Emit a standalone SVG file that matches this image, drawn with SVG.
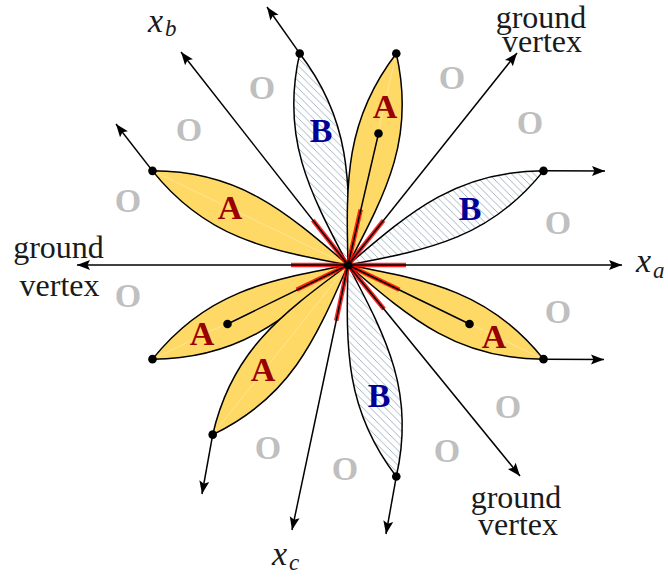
<svg xmlns="http://www.w3.org/2000/svg" width="668" height="579" viewBox="0 0 668 579">
<defs>
  <pattern id="hatch" patternUnits="userSpaceOnUse" width="7.5" height="7.5">
    <path d="M-1,-1 L8.5,8.5 M-1,6.5 L1,8.5 M6.5,-1 L8.5,1" stroke="#98acb9" stroke-width="0.9" fill="none"/>
  </pattern>
  <marker id="arr" viewBox="-14 -6 15 12" refX="0" refY="0" markerWidth="15" markerHeight="12" markerUnits="userSpaceOnUse" orient="auto">
    <path d="M0,0 L-13,-5 L-10.5,0 L-13,5 Z" fill="#000"/>
  </marker>
</defs>
<style>
  .petA{fill:#ffd966;stroke:#000;stroke-width:1.5;stroke-linejoin:round}
  .petB{fill:url(#hatch);stroke:#000;stroke-width:1.5;stroke-linejoin:round}
  .seam{stroke:#fff;stroke-width:0.6;stroke-opacity:0.5}
  .ax{stroke:#000;stroke-width:1.5;fill:none;marker-end:url(#arr)}
  .ln{stroke:#000;stroke-width:1.5}
  .red{stroke:#ff0000;stroke-width:4.5;stroke-opacity:0.85}
  .dot{fill:#000}
  .la,.lb,.lo{font-family:"Liberation Serif","DejaVu Serif",serif;font-weight:bold;font-size:34px;text-anchor:middle}
  .la{fill:#990000}
  .lb{fill:#000099}
  .lo{fill:#bfbfbf}
  .t{font-family:"Liberation Serif","DejaVu Serif",serif;font-size:32px;fill:#1a1a1a;text-anchor:middle}
  .xi{font-family:"Liberation Serif","DejaVu Serif",serif;font-style:italic;font-size:34px;fill:#1a1a1a}
  .xs{font-family:"Liberation Serif","DejaVu Serif",serif;font-style:italic;font-size:23px;fill:#1a1a1a}
</style>
<rect width="668" height="579" fill="#fff"/>

<g id="petal-B-top">
  <path class="petB" d="M348,265 C308.27,189.86 280.80,136.31 299.71,53.44 C350.71,119.90 350.18,180.06 348,265 Z"/>
  <text class="lb" x="321" y="142">B</text>
</g>
<g id="petal-A-top">
  <path class="petA" d="M348,265 C345.82,180.06 345.29,119.90 396.29,53.44 C415.20,136.31 387.73,189.86 348,265 Z"/>
  <line class="seam" x1="348" y1="265" x2="396.29" y2="53.44"/>
</g>
<g id="petal-B-right">
  <path class="petB" d="M348,265 C412.43,209.56 458.51,170.85 543.51,170.85 C490.51,237.31 431.52,249.20 348,265 Z"/>
  <text class="lb" x="470" y="220">B</text>
</g>
<g id="petal-A-upleft">
  <path class="petA" d="M348,265 C264.48,249.20 205.49,237.31 152.49,170.85 C237.49,170.85 283.57,209.56 348,265 Z"/>
  <line class="seam" x1="348" y1="265" x2="152.49" y2="170.85"/>
  <text class="la" x="230" y="219">A</text>
</g>
<g id="petal-A-lowleft">
  <path class="petA" d="M348,265 C264.48,280.80 205.49,292.69 152.49,359.15 C237.49,359.15 283.57,320.44 348,265 Z"/>
  <line class="seam" x1="348" y1="265" x2="152.49" y2="359.15"/>
</g>
<g id="petal-A-bottomleft">
  <path class="petA" d="M348,265 C279.62,315.48 231.61,351.79 212.70,434.66 C289.28,397.78 314.01,342.91 348,265 Z"/>
  <line class="seam" x1="348" y1="265" x2="212.70" y2="434.66"/>
  <text class="la" x="263" y="381">A</text>
</g>
<g id="petal-B-bottom">
  <path class="petB" d="M348,265 C345.82,349.94 345.29,410.10 396.29,476.56 C415.20,393.69 387.73,340.14 348,265 Z"/>
  <text class="lb" x="379" y="407">B</text>
</g>
<g id="petal-A-lowright">
  <path class="petA" d="M348,265 C412.43,320.44 458.51,359.15 543.51,359.15 C490.51,292.69 431.52,280.80 348,265 Z"/>
  <line class="seam" x1="348" y1="265" x2="543.51" y2="359.15"/>
</g>

<g id="connectors">
  <g id="red-marks">
    <line class="red" x1="348" y1="265" x2="406" y2="265"/>
    <line class="red" x1="348" y1="265" x2="291" y2="265"/>
    <line class="red" x1="348" y1="265" x2="383.5" y2="220.4"/>
    <line class="red" x1="348" y1="265" x2="312.8" y2="220.1"/>
    <line class="red" x1="348" y1="265" x2="336.2" y2="320.8"/>
    <line class="red" x1="348" y1="265" x2="384" y2="309.2"/>
    <line class="red" x1="348" y1="265" x2="360.7" y2="209.4"/>
    <line class="red" x1="348" y1="265" x2="296.6" y2="289.7"/>
    <line class="red" x1="348" y1="265" x2="399.4" y2="289.7"/>
  </g>
  <line class="ax" x1="348" y1="265" x2="622" y2="265"/>
  <line class="ax" x1="348" y1="265" x2="77" y2="265"/>
  <line class="ax" x1="348" y1="265" x2="181" y2="52"/>
  <line class="ax" x1="348" y1="265" x2="517" y2="53"/>
  <line class="ax" x1="348" y1="265" x2="292" y2="530"/>
  <line class="ax" x1="348" y1="265" x2="520" y2="476"/>
  <line class="ln" x1="348" y1="265" x2="378.5" y2="133.5"/>
  <line class="ln" x1="348" y1="265" x2="227.5" y2="324"/>
  <line class="ln" x1="348" y1="265" x2="469.5" y2="324"/>
  <line class="ax" x1="299.71" y1="53.44" x2="267" y2="7"/>
  <line class="ax" x1="543.51" y1="170.85" x2="605" y2="171"/>
  <line class="ax" x1="152.49" y1="170.85" x2="116" y2="124"/>
  <line class="ax" x1="212.70" y1="434.66" x2="202" y2="494"/>
  <line class="ax" x1="396.29" y1="476.56" x2="386" y2="534"/>
  <line class="ax" x1="543.51" y1="359.15" x2="604" y2="359.5"/>
</g>

<g id="dots">
  <circle class="dot" cx="348" cy="265" r="4.2"/>
  <circle class="dot" cx="299.71" cy="53.44" r="4.3"/>
  <circle class="dot" cx="396.29" cy="53.44" r="4.3"/>
  <circle class="dot" cx="543.51" cy="170.85" r="4.3"/>
  <circle class="dot" cx="152.49" cy="170.85" r="4.3"/>
  <circle class="dot" cx="152.49" cy="359.15" r="4.3"/>
  <circle class="dot" cx="212.70" cy="434.66" r="4.3"/>
  <circle class="dot" cx="396.29" cy="476.56" r="4.3"/>
  <circle class="dot" cx="543.51" cy="359.15" r="4.3"/>
  <circle class="dot" cx="378.5" cy="133.5" r="4.3"/>
  <circle class="dot" cx="227.5" cy="324" r="4.3"/>
  <circle class="dot" cx="469.5" cy="324" r="4.3"/>
</g>

<g id="labels-A">
  <text class="la" x="385" y="118">A</text>
  <text class="la" x="202" y="345">A</text>
  <text class="la" x="494" y="348">A</text>
</g>

<g id="labels-O">
  <text class="lo" x="262" y="98.5">O</text>
  <text class="lo" x="189" y="140.5">O</text>
  <text class="lo" x="128" y="211.5">O</text>
  <text class="lo" x="128" y="306.5">O</text>
  <text class="lo" x="268" y="458.5">O</text>
  <text class="lo" x="345" y="479.5">O</text>
  <text class="lo" x="447" y="461.5">O</text>
  <text class="lo" x="508" y="417.5">O</text>
  <text class="lo" x="558" y="322.5">O</text>
  <text class="lo" x="558" y="233.5">O</text>
  <text class="lo" x="530" y="133.5">O</text>
  <text class="lo" x="452" y="88.5">O</text>
</g>

<g id="label-gv-upright">
  <text class="t"><tspan x="541" y="28">ground</tspan><tspan x="542" y="52">vertex</tspan></text>
</g>
<g id="label-gv-left">
  <text class="t"><tspan x="58.5" y="258">ground</tspan><tspan x="59.5" y="296">vertex</tspan></text>
</g>
<g id="label-gv-lowright">
  <text class="t"><tspan x="516" y="508">ground</tspan><tspan x="518" y="535">vertex</tspan></text>
</g>
<g id="label-xa">
  <text class="xi" x="636" y="272">x</text>
  <text class="xs" x="653" y="278">a</text>
</g>
<g id="label-xb">
  <text class="xi" x="148" y="32">x</text>
  <text class="xs" x="165" y="36">b</text>
</g>
<g id="label-xc">
  <text class="xi" x="272" y="565">x</text>
  <text class="xs" x="289" y="570">c</text>
</g>
</svg>
